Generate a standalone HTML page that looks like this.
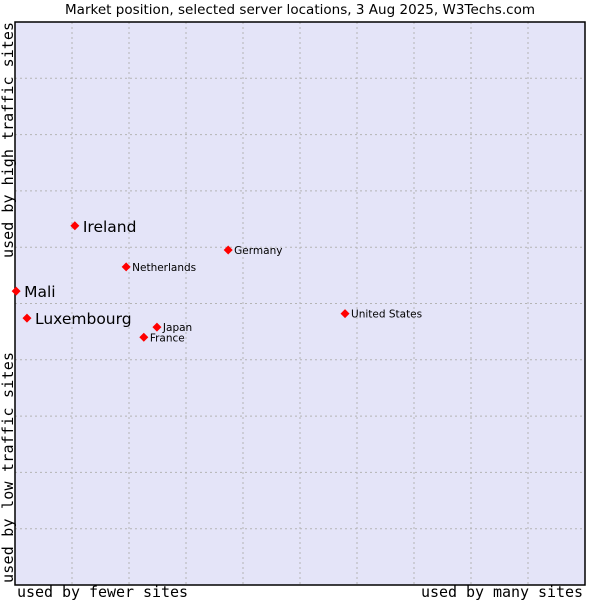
<!DOCTYPE html>
<html><head><meta charset="utf-8"><style>
body{margin:0;background:#fff;}
svg{display:block;}
</style></head><body>
<svg id="chart" width="600" height="600" xmlns="http://www.w3.org/2000/svg">
<text x="300" y="14" text-anchor="middle" font-family="DejaVu Sans, sans-serif" font-size="13.5" textLength="470" fill="#000">Market position, selected server locations, 3 Aug 2025, W3Techs.com</text>
<rect x="15" y="22" width="570" height="563" fill="#e4e4f8"/>
<g id="grid"></g>
<path d="M15,22H585V585H15Z" fill="none" stroke="#000" stroke-width="1.5"/>
<text x="17" y="597" font-family="DejaVu Sans Mono, monospace" font-size="15" textLength="171">used by fewer sites</text>
<text x="421" y="597" font-family="DejaVu Sans Mono, monospace" font-size="15" textLength="162">used by many sites</text>
<text transform="translate(13,258) rotate(-90)" font-family="DejaVu Sans Mono, monospace" font-size="15" textLength="236">used by high traffic sites</text>
<text transform="translate(13,583) rotate(-90)" font-family="DejaVu Sans Mono, monospace" font-size="15" textLength="231">used by low traffic sites</text>
<g id="points"></g>
</svg>
<script>
const countries = ["Ireland","Mali","Luxembourg","Netherlands","Germany","Japan","France","United States"];
const xValues = [10.5,0.2,2.1,19.5,37.4,24.9,22.6,57.9];
const yValues = [63.8,52.2,47.4,56.5,59.5,45.8,44.0,48.2];
const highlighted = [true,true,true,false,false,false,false,false];
const gridTicks = [10,20,30,40,50,60,70,80,90];

const X0=15,X1=585,Y0=585,Y1=22;
const xs=v=>X0+(X1-X0)*v/100;
const ys=v=>Y0-(Y0-Y1)*v/100;
const NS="http://www.w3.org/2000/svg";
const grid=document.getElementById('grid');
gridTicks.forEach(t=>{
  let l=document.createElementNS(NS,'line');
  
  
  l.setAttribute('x1',xs(t));l.setAttribute('x2',xs(t));l.setAttribute('y1',Y1);l.setAttribute('y2',Y0);
  l.setAttribute('stroke','#b4b4b4');l.setAttribute('stroke-dasharray','2,3');
  grid.appendChild(l);
  let h=document.createElementNS(NS,'line');
  
  
  h.setAttribute('y1',ys(t));h.setAttribute('y2',ys(t));h.setAttribute('x1',X0);h.setAttribute('x2',X1);
  h.setAttribute('stroke','#b4b4b4');h.setAttribute('stroke-dasharray','2,3');
  grid.appendChild(h);
});
const pts=document.getElementById('points');
countries.forEach((c,i)=>{
  const x=xs(xValues[i]),y=ys(yValues[i]);
  const m=document.createElementNS(NS,'path');
  
  
  m.setAttribute('d',`M${x},${y-4.5}L${x+4.5},${y}L${x},${y+4.5}L${x-4.5},${y}Z`);
  m.setAttribute('fill','#f00');
  pts.appendChild(m);
  const t=document.createElementNS(NS,'text');
  
  
  const big=highlighted[i];
  t.setAttribute('x',x+(big?8:6));
  t.setAttribute('y',y+(big?6:4));
  t.setAttribute('font-family','DejaVu Sans, sans-serif');
  t.setAttribute('font-size',big?'15.5':'10.5');
  t.textContent=c;
  pts.appendChild(t);
});
</script>
</body></html>
